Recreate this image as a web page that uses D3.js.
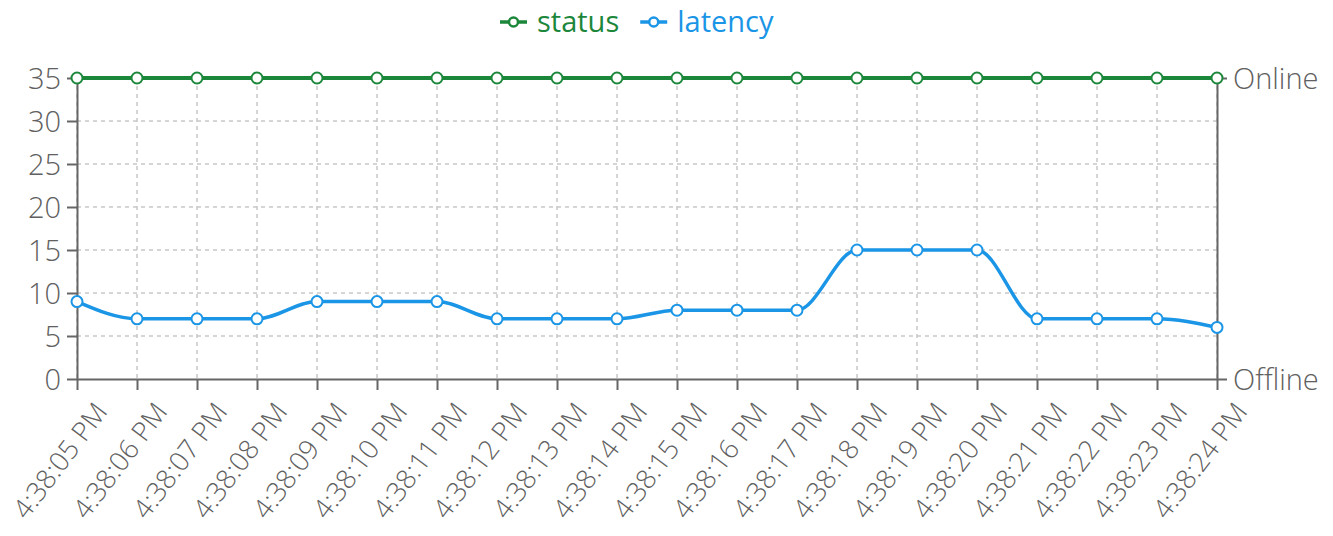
<!DOCTYPE html>
<html><head><meta charset="utf-8">
<script src="https://cdn.jsdelivr.net/npm/d3@7/dist/d3.min.js"></script>
<style>
html,body{margin:0;padding:0;background:#fff;}
svg text{font-family:"Open Sans",sans-serif;}
</style></head>
<body><svg id="c" width="1333" height="536"></svg>
<script>
const times = ["4:38:05 PM","4:38:06 PM","4:38:07 PM","4:38:08 PM","4:38:09 PM","4:38:10 PM","4:38:11 PM","4:38:12 PM","4:38:13 PM","4:38:14 PM","4:38:15 PM","4:38:16 PM","4:38:17 PM","4:38:18 PM","4:38:19 PM","4:38:20 PM","4:38:21 PM","4:38:22 PM","4:38:23 PM","4:38:24 PM"];
const latency = [9,7,7,7,9,9,9,7,7,7,8,8,8,15,15,15,7,7,7,6];
const status = [1,1,1,1,1,1,1,1,1,1,1,1,1,1,1,1,1,1,1,1];
const yTicks = [0,5,10,15,20,25,30,35];
const y2Ticks = [0,1];
const y2Labels = ["Offline","Online"];
const seriesNames = ["status","latency"];
const colors = {status:"#1c873a", latency:"#1b95e6"};

const svg = d3.select("#c");
const L = 77, R = 1217, T = 78, B = 379;
const FS = 29, TXT = "#606060";
const x = d3.scalePoint().domain(times).range([L, R]);
const y = d3.scaleLinear().domain([0,35]).range([B, T]);
const y2 = d3.scaleLinear().domain([0,1]).range([B, T]);

// grid
const g = svg.append("g");
g.selectAll("line.vg").data(times).join("line")
  .attr("x1", d=>x(d)).attr("x2", d=>x(d)).attr("y1", T).attr("y2", B)
  .attr("stroke","#c8c8c8").attr("stroke-width",1.5).attr("stroke-dasharray","4,4");
g.selectAll("line.hg").data(yTicks.filter(v=>v>0)).join("line")
  .attr("x1", L).attr("x2", R).attr("y1", d=>y(d)).attr("y2", d=>y(d))
  .attr("stroke","#c8c8c8").attr("stroke-width",1.5).attr("stroke-dasharray","4,4");

function styleAxis(sel){
  sel.selectAll("path.domain").attr("stroke","#666").attr("stroke-width",2);
  sel.selectAll(".tick line").attr("stroke","#666").attr("stroke-width",2);
  sel.selectAll(".tick text").attr("fill",TXT).attr("font-size",FS).attr("font-family","Open Sans").attr("font-weight",300);
}
const ax = svg.append("g").attr("transform",`translate(0,${B})`)
  .call(d3.axisBottom(x).tickSizeInner(11).tickSizeOuter(0));
styleAxis(ax);
ax.selectAll(".tick text").attr("text-anchor","end").attr("font-size",27)
  .attr("transform","translate(31,33) rotate(-53)").attr("x",0).attr("y",0).attr("dy","0");

const ay = svg.append("g").attr("transform",`translate(${L},0)`)
  .call(d3.axisLeft(y).tickValues(yTicks).tickSizeInner(10).tickSizeOuter(0).tickPadding(6));
styleAxis(ay);
ay.selectAll(".tick text").attr("dy","0.36em");

const ay2 = svg.append("g").attr("transform",`translate(${R},0)`)
  .call(d3.axisRight(y2).tickValues(y2Ticks).tickFormat((d,i)=>y2Labels[i]).tickSizeInner(10).tickSizeOuter(0).tickPadding(6));
styleAxis(ay2);
ay2.selectAll(".tick text").attr("dy","0.36em");

// lines
const lineL = d3.line().x((d,i)=>x(times[i])).y(d=>y(d)).curve(d3.curveMonotoneX);
const lineS = d3.line().x((d,i)=>x(times[i])).y(d=>y2(d)).curve(d3.curveMonotoneX);
svg.append("path").attr("d",lineS(status)).attr("fill","none").attr("stroke",colors.status).attr("stroke-width",4);
svg.append("path").attr("d",lineL(latency)).attr("fill","none").attr("stroke",colors.latency).attr("stroke-width",3.5);
svg.append("g").selectAll("circle").data(status).join("circle")
  .attr("cx",(d,i)=>x(times[i])).attr("cy",d=>y2(d)).attr("r",5.5)
  .attr("fill","#fff").attr("stroke",colors.status).attr("stroke-width",2);
svg.append("g").selectAll("circle").data(latency).join("circle")
  .attr("cx",(d,i)=>x(times[i])).attr("cy",d=>y(d)).attr("r",5.5)
  .attr("fill","#fff").attr("stroke",colors.latency).attr("stroke-width",2);

// legend
const leg = svg.append("g");
let cx = 500;
seriesNames.forEach(n=>{
  const it = leg.append("g").attr("transform",`translate(${cx},22)`);
  it.append("line").attr("x1",0).attr("x2",27).attr("stroke",colors[n]).attr("stroke-width",3.5);
  it.append("circle").attr("cx",13.5).attr("r",4.5).attr("fill","#fff").attr("stroke",colors[n]).attr("stroke-width",2.5);
  const t = it.append("text").attr("x",37).attr("dy","0.33em").attr("font-size",FS).attr("fill",colors[n]).text(n);
  cx += 37 + t.node().getComputedTextLength() + 21;
});
</script></body></html>
